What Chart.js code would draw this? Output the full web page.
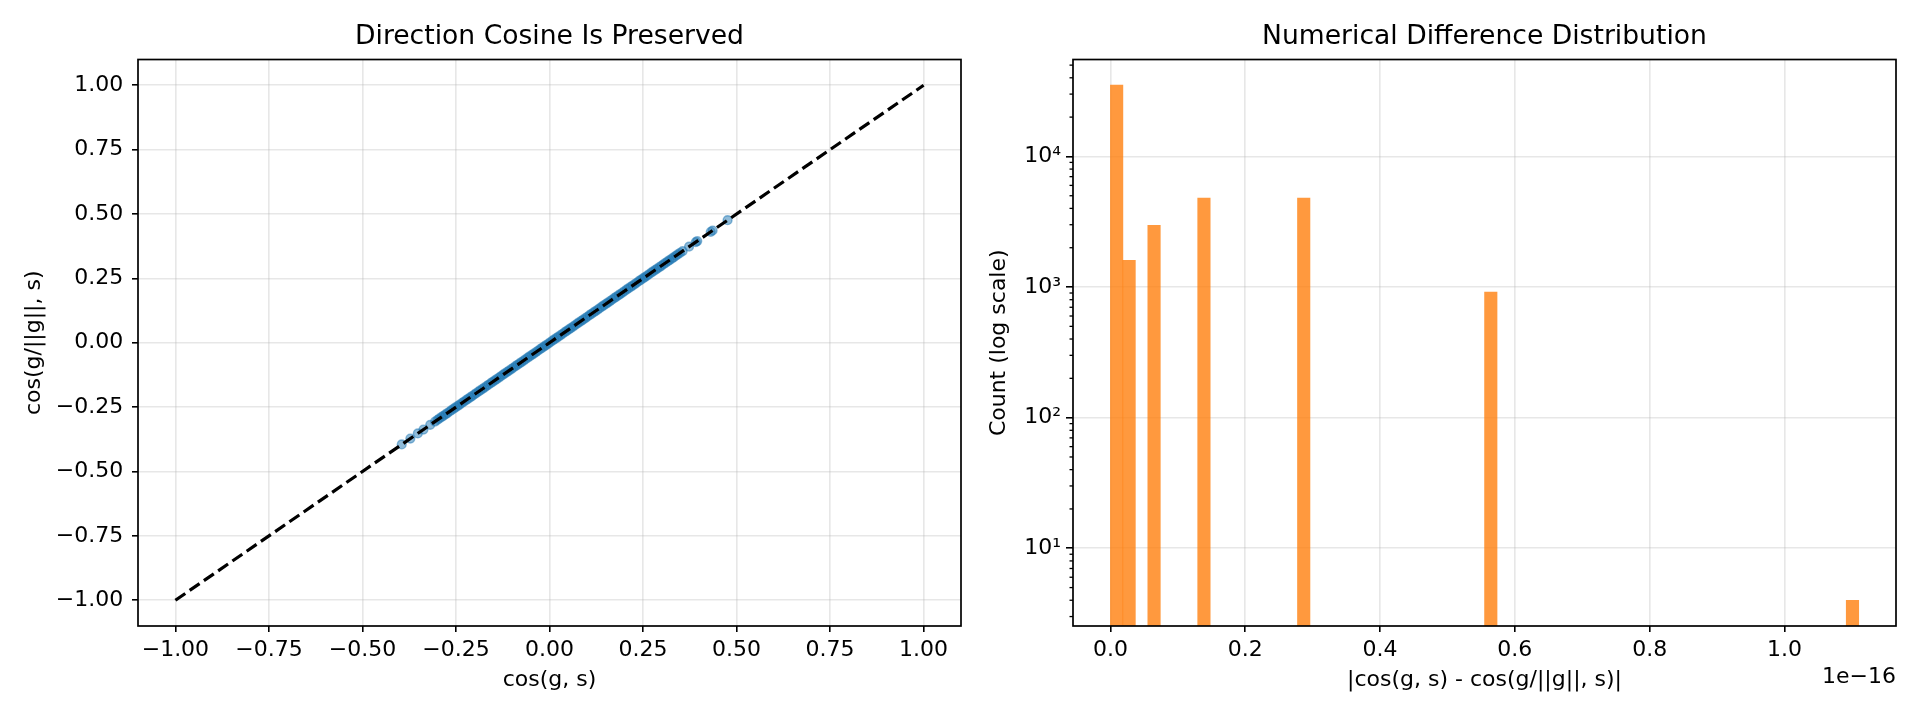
<!DOCTYPE html>
<html lang="en">
<head>
    <meta charset="UTF-8">
    <title>Direction Cosine Is Preserved</title>
    <script src="https://cdn.jsdelivr.net/npm/chart.js@4.4.1/dist/chart.umd.min.js"></script>
    <style>
        body {
            margin: 0;
            background: #fff;
        }
        .wrap {
            position: relative;
            width: 1920px;
            height: 720px;
        }
        #cosChart { position: absolute; left: 0; top: 0; }
        #diffChart { position: absolute; left: 975px; top: 0; }
    </style>
</head>
<body>
<div class="wrap">
    <canvas id="cosChart" width="975" height="720"></canvas>
    <canvas id="diffChart" width="945" height="720"></canvas>
</div>

<script>
    // left panel: cos(g, s) against cos(g/||g||, s)
    const cosOrig = [
        -0.395, -0.372, -0.352, -0.337, -0.319, -0.306,
        -0.300, -0.295, -0.289, -0.284, -0.278, -0.273, -0.267, -0.262, -0.256, -0.251,
        -0.245, -0.240, -0.234, -0.229, -0.223, -0.218, -0.212, -0.207, -0.201, -0.196,
        -0.190, -0.185, -0.179, -0.174, -0.168, -0.163, -0.157, -0.152, -0.146, -0.141,
        -0.135, -0.130, -0.124, -0.119, -0.113, -0.108, -0.102, -0.097, -0.091, -0.086,
        -0.080, -0.075, -0.069, -0.064, -0.058, -0.053, -0.047, -0.042, -0.036, -0.031,
        -0.025, -0.020, -0.014, -0.009, -0.003, 0.002, 0.008, 0.013, 0.019, 0.024,
        0.030, 0.035, 0.041, 0.046, 0.052, 0.057, 0.063, 0.068, 0.074, 0.079,
        0.085, 0.090, 0.096, 0.101, 0.107, 0.112, 0.118, 0.123, 0.129, 0.134,
        0.140, 0.145, 0.151, 0.156, 0.162, 0.167, 0.173, 0.178, 0.184, 0.189,
        0.195, 0.200, 0.206, 0.211, 0.217, 0.222, 0.228, 0.233, 0.239, 0.244,
        0.250, 0.255, 0.261, 0.266, 0.272, 0.277, 0.283, 0.288, 0.294, 0.299,
        0.305, 0.310, 0.316, 0.321, 0.327, 0.332, 0.338,
        0.343, 0.349, 0.356, 0.373, 0.391, 0.395, 0.431, 0.436, 0.476
    ];
    const cosNorm = [
        -0.395, -0.372, -0.352, -0.337, -0.319, -0.306,
        -0.300, -0.295, -0.289, -0.284, -0.278, -0.273, -0.267, -0.262, -0.256, -0.251,
        -0.245, -0.240, -0.234, -0.229, -0.223, -0.218, -0.212, -0.207, -0.201, -0.196,
        -0.190, -0.185, -0.179, -0.174, -0.168, -0.163, -0.157, -0.152, -0.146, -0.141,
        -0.135, -0.130, -0.124, -0.119, -0.113, -0.108, -0.102, -0.097, -0.091, -0.086,
        -0.080, -0.075, -0.069, -0.064, -0.058, -0.053, -0.047, -0.042, -0.036, -0.031,
        -0.025, -0.020, -0.014, -0.009, -0.003, 0.002, 0.008, 0.013, 0.019, 0.024,
        0.030, 0.035, 0.041, 0.046, 0.052, 0.057, 0.063, 0.068, 0.074, 0.079,
        0.085, 0.090, 0.096, 0.101, 0.107, 0.112, 0.118, 0.123, 0.129, 0.134,
        0.140, 0.145, 0.151, 0.156, 0.162, 0.167, 0.173, 0.178, 0.184, 0.189,
        0.195, 0.200, 0.206, 0.211, 0.217, 0.222, 0.228, 0.233, 0.239, 0.244,
        0.250, 0.255, 0.261, 0.266, 0.272, 0.277, 0.283, 0.288, 0.294, 0.299,
        0.305, 0.310, 0.316, 0.321, 0.327, 0.332, 0.338,
        0.343, 0.349, 0.356, 0.373, 0.391, 0.395, 0.431, 0.436, 0.476
    ];
    const refX = [-1, 1];
    const refY = [-1, 1];
    const cosTicks = [-1, -0.75, -0.5, -0.25, 0, 0.25, 0.5, 0.75, 1];
    const cosTickLabels = ['−1.00', '−0.75', '−0.50', '−0.25', '0.00', '0.25', '0.50', '0.75', '1.00'];

    // right panel: histogram of |difference|, x in units of 1e-16 (60 bins)
    const binCenters = [0.00925, 0.02775, 0.06476, 0.13877, 0.28680, 0.56435, 1.10094];
    const binCounts = [35100, 1600, 2970, 4790, 4790, 916, 4];
    const diffTicks = [0, 0.2, 0.4, 0.6, 0.8, 1.0];
    const diffTickLabels = ['0.0', '0.2', '0.4', '0.6', '0.8', '1.0'];
    const countTicks = [10, 100, 1000, 10000];
    const countTickLabels = ['10¹', '10²', '10³', '10⁴'];

    Chart.defaults.font.family = '"DejaVu Sans", sans-serif';
    Chart.defaults.color = '#000';

    const FONT = {family: '"DejaVu Sans", sans-serif', size: 22};
    const GRID = 'rgba(176,176,176,0.3)';

    // matplotlib-like box around the axes
    const frame = {
        id: 'frame',
        afterDraw(chart) {
            const {ctx, chartArea: a} = chart;
            ctx.save();
            ctx.strokeStyle = '#000';
            ctx.lineWidth = 1.7;
            ctx.strokeRect(a.left, a.top, a.right - a.left, a.bottom - a.top);
            ctx.restore();
        }
    };

    // short minor ticks on the log axis + the x offset text
    const logExtras = {
        id: 'logExtras',
        afterDraw(chart) {
            const {ctx, chartArea: a, scales: {y}} = chart;
            ctx.save();
            ctx.strokeStyle = '#000';
            ctx.lineWidth = 1.3;
            y.ticks.forEach(t => {
                if (t.major) return;
                const py = y.getPixelForValue(t.value);
                ctx.beginPath();
                ctx.moveTo(a.left - 3.5, py);
                ctx.lineTo(a.left, py);
                ctx.stroke();
            });
            ctx.fillStyle = '#000';
            ctx.font = '22px "DejaVu Sans"';
            ctx.textAlign = 'right';
            ctx.textBaseline = 'middle';
            ctx.fillText('1e−16', a.right, 677);
            ctx.restore();
        }
    };

    function titleOpts(text) {
        return {
            display: true,
            text: text,
            fullSize: false,
            color: '#000',
            font: {family: '"DejaVu Sans", sans-serif', size: 26.6, weight: 'normal'},
            padding: {top: 20.7, bottom: 6.9}
        };
    }

    new Chart(document.getElementById('cosChart'), {
        type: 'scatter',
        data: {
            datasets: [
                {
                    data: cosOrig.map((v, i) => ({x: v, y: cosNorm[i]})),
                    backgroundColor: 'rgba(31,119,180,0.5)',
                    borderColor: 'rgba(31,119,180,0.5)',
                    borderWidth: 1.4,
                    pointRadius: 4.4,
                    order: 1
                },
                {
                    data: refX.map((v, i) => ({x: v, y: refY[i]})),
                    showLine: true,
                    borderColor: '#000',
                    borderWidth: 3.2,
                    borderDash: [12, 5.3],
                    pointRadius: 0,
                    order: 0
                }
            ]
        },
        options: {
            responsive: false,
            animation: false,
            devicePixelRatio: 1,
            layout: {padding: {left: 0, right: 14, top: 0, bottom: 0}},
            plugins: {
                legend: {display: false},
                tooltip: {enabled: false},
                title: titleOpts('Direction Cosine Is Preserved')
            },
            scales: {
                x: {
                    type: 'linear',
                    min: -1.1,
                    max: 1.1,
                    afterBuildTicks: s => { s.ticks = cosTicks.map(v => ({value: v})); },
                    afterFit: s => { s.height = 94; },
                    ticks: {font: FONT, color: '#000', padding: 5.5, autoSkip: false, maxRotation: 0,
                        callback: (v, i) => cosTickLabels[i]},
                    grid: {color: GRID, lineWidth: 1.6, tickLength: 6, tickColor: '#000', tickWidth: 1.6},
                    border: {display: false},
                    title: {display: true, text: 'cos(g, s)', color: '#000', font: FONT, padding: {top: 0, bottom: 26.8}}
                },
                y: {
                    type: 'linear',
                    min: -1.1,
                    max: 1.1,
                    afterBuildTicks: s => { s.ticks = cosTicks.map(v => ({value: v})); },
                    afterFit: s => { s.width = 138; },
                    ticks: {font: FONT, color: '#000', padding: 8.8, autoSkip: false,
                        callback: (v, i) => cosTickLabels[i]},
                    grid: {color: GRID, lineWidth: 1.6, tickLength: 6, tickColor: '#000', tickWidth: 1.6},
                    border: {display: false},
                    title: {display: true, text: 'cos(g/||g||, s)', color: '#000', font: FONT, padding: {top: 20.9, bottom: 0}}
                }
            }
        },
        plugins: [frame]
    });

    new Chart(document.getElementById('diffChart'), {
        type: 'bar',
        data: {
            datasets: [{
                data: binCenters.map((v, i) => ({x: v, y: binCounts[i]})),
                backgroundColor: 'rgba(255,127,14,0.8)',
                borderWidth: 0,
                barPercentage: 1,
                categoryPercentage: 1
            }]
        },
        options: {
            responsive: false,
            animation: false,
            devicePixelRatio: 1,
            layout: {padding: {left: 0, right: 24, top: 0, bottom: 0}},
            plugins: {
                legend: {display: false},
                tooltip: {enabled: false},
                title: titleOpts('Numerical Difference Distribution')
            },
            scales: {
                x: {
                    type: 'linear',
                    min: -0.0555,
                    max: 1.1655,
                    offset: false,
                    afterBuildTicks: s => { s.ticks = diffTicks.map(v => ({value: v})); },
                    afterFit: s => { s.height = 94; },
                    ticks: {font: FONT, color: '#000', padding: 5.5, autoSkip: false, maxRotation: 0,
                        callback: (v, i) => diffTickLabels[i]},
                    grid: {offset: false, color: GRID, lineWidth: 1.6, tickLength: 6, tickColor: '#000', tickWidth: 1.6},
                    border: {display: false},
                    title: {display: true, text: '|cos(g, s) - cos(g/||g||, s)|', color: '#000', font: FONT, padding: {top: 0, bottom: 26.8}}
                },
                y: {
                    type: 'logarithmic',
                    min: 2.54,
                    max: 55200,
                    beginAtZero: false,
                    afterBuildTicks: s => {
                        const list = [];
                        for (let e = 0; e <= 4; e++) {
                            for (let m = 1; m <= 9; m++) {
                                const v = m * Math.pow(10, e);
                                if (v >= s.min && v <= s.max) list.push({value: v, major: m === 1});
                            }
                        }
                        s.ticks = list;
                    },
                    afterFit: s => { s.width = 98; },
                    ticks: {font: FONT, color: '#000', padding: 5, autoSkip: false,
                        callback: (v, i, t) => {
                            const k = countTicks.indexOf(t[i].value);
                            return k >= 0 ? countTickLabels[k] : '';
                        }},
                    grid: {
                        color: c => (c.tick && c.tick.major ? GRID : 'rgba(0,0,0,0)'),
                        lineWidth: 1.6,
                        tickLength: 7,
                        tickColor: c => (c.tick && c.tick.major ? '#000' : 'rgba(0,0,0,0)'),
                        tickWidth: 1.6
                    },
                    border: {display: false},
                    title: {display: true, text: 'Count (log scale)', color: '#000', font: FONT, padding: {top: 11.5, bottom: 0}}
                }
            }
        },
        plugins: [frame, logExtras]
    });
</script>
</body>
</html>
